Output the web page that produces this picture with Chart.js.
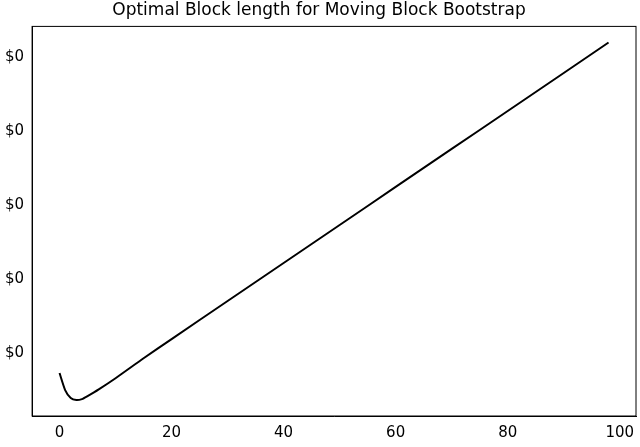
<!DOCTYPE html>
<html lang="en">
<head>
<meta charset="UTF-8"/>
<title>Optimal Block length</title>
<script src="https://cdn.jsdelivr.net/npm/chart.js"></script>
<style>
    html, body { margin: 0; padding: 0; background: #fff; }
    .wrap { width: 640px; height: 447px; position: relative; }
</style>
</head>
<body>
<div class="wrap"><canvas id="c"></canvas></div>
<script>
    const xs = [0, 1, 2, 3, 4, 5, 7, 10, 15, 20, 30, 40, 50, 60, 70, 80, 90, 98];
    const ys = [0.73, 0.50, 0.392, 0.365, 0.378, 0.419, 0.51, 0.66, 0.93, 1.19, 1.705, 2.219, 2.733, 3.248, 3.762, 4.276, 4.79, 5.202];
    const yTicks = [1, 2, 3, 4, 5];

    const points = xs.map((x, i) => ({ x: x, y: ys[i] }));

    new Chart(document.getElementById('c'), {
        type: 'scatter',
        data: {
            datasets: [{
                data: points,
                showLine: true,
                borderColor: '#000',
                borderWidth: 2,
                pointRadius: 0,
                tension: 0.2
            }]
        },
        options: {
            responsive: true,
            maintainAspectRatio: false,
            animation: false,
            layout: { padding: { left: 2, right: 4, top: 0, bottom: 2 } },
            plugins: {
                legend: { display: false },
                tooltip: { enabled: false },
                title: {
                    display: true,
                    text: 'Optimal Block length for Moving Block Bootstrap',
                    color: '#000',
                    font: { family: 'DejaVu Sans', size: 17, weight: 'normal' },
                    padding: { top: 0, bottom: 6 }
                }
            },
            scales: {
                x: {
                    type: 'linear',
                    min: -4.9,
                    max: 102.9,
                    grid: { display: false, drawTicks: true, tickLength: 5, tickColor: '#000' },
                    border: { color: '#000', width: 1 },
                    afterBuildTicks: axis => { axis.ticks = [0, 20, 40, 60, 80, 100].map(v => ({ value: v })); },
                    ticks: { color: '#000', font: { family: 'DejaVu Sans', size: 15 }, maxRotation: 0 }
                },
                y: {
                    min: 0.149,
                    max: 5.42,
                    grid: { display: false, tickLength: 5, tickColor: '#000' },
                    border: { color: '#000', width: 1 },
                    afterBuildTicks: axis => { axis.ticks = yTicks.map(v => ({ value: v })); },
                    ticks: {
                        color: '#000',
                        font: { family: 'DejaVu Sans', size: 15 },
                        callback: () => '$0'
                    }
                }
            }
        },
        plugins: [{
            id: 'frame',
            afterDraw(chart) {
                const a = chart.chartArea, ctx = chart.ctx;
                ctx.save();
                ctx.strokeStyle = '#000';
                ctx.lineWidth = 1;
                ctx.strokeRect(a.left, a.top, a.right - a.left, a.bottom - a.top);
                ctx.restore();
            }
        }]
    });
</script>
</body>
</html>
